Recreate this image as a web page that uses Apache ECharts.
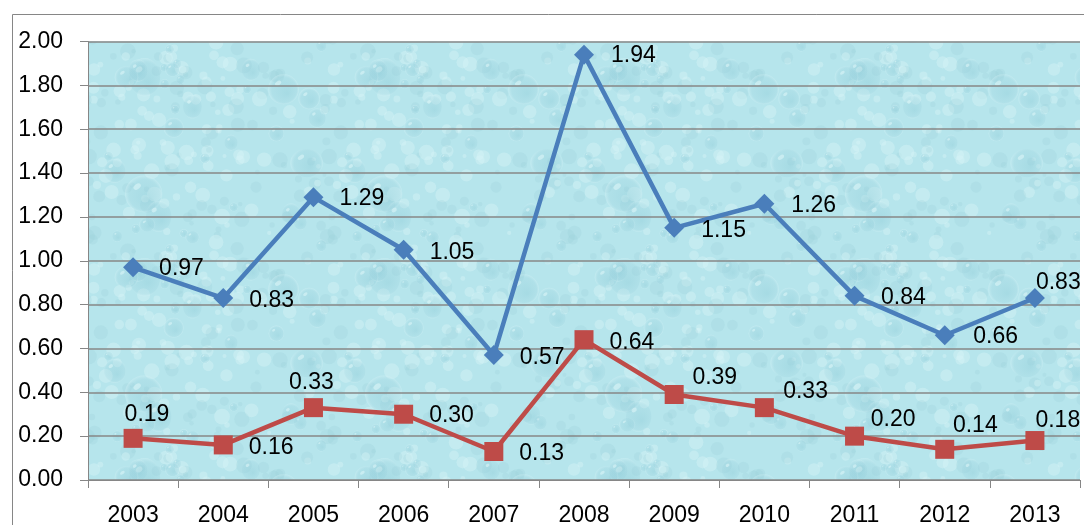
<!DOCTYPE html>
<html>
<head>
<meta charset="utf-8">
<script src="https://cdn.jsdelivr.net/npm/echarts@6/dist/echarts.min.js"></script>
<style>
  html, body { margin: 0; padding: 0; background: #ffffff; }
  #chart { width: 1084px; height: 525px; }
</style>
</head>
<body>
<div id="chart"></div>
<script>
// Years on the category axis
const years = ['2003', '2004', '2005', '2006', '2007', '2008', '2009', '2010', '2011', '2012', '2013'];
// Upper series (blue, diamonds)
const seriesA = [0.97, 0.83, 1.29, 1.05, 0.57, 1.94, 1.15, 1.26, 0.84, 0.66, 0.83];
// Lower series (red, squares)
const seriesB = [0.19, 0.16, 0.33, 0.30, 0.13, 0.64, 0.39, 0.33, 0.20, 0.14, 0.18];
// Value axis range
const yMin = 0, yMax = 2, yStep = 0.2;

// Label nudges (px) for individual data labels, relative to the default right-side spot
const nudgeA = [[0, 1], [0, 2.5], [0, 1.5], [0, 3], [0, 2.5], [1, 1.5], [1, 2.5], [1, 2], [0.5, 2], [2.5, 1.2], [-25, -15]];
const nudgeB = [[-34, -24], [0, 2.6], [-50, -25], [0, 1.6], [0, 2], [0, 3], [-7.3, -16.5], [-6.7, -16.3], [-9.3, -16], [-17.3, -24], [-25, -20]];

// Soft water-drop texture for the plot background, painted once on an offscreen canvas
function makeTexture() {
  const W = 240, H = 200;
  const c = document.createElement('canvas');
  c.width = W; c.height = H;
  const g = c.getContext('2d');
  g.fillStyle = '#b6e5ec';
  g.fillRect(0, 0, W, H);
  let s = 11;
  const rnd = () => { s = (s * 16807) % 2147483647; return (s - 1) / 2147483646; };
  // light mottling
  for (let i = 0; i < 160; i++) {
    const x = rnd() * W, y = rnd() * H, r = 2 + rnd() * 6;
    g.fillStyle = rnd() < 0.55 ? 'rgba(218,245,248,0.4)' : 'rgba(150,205,216,0.22)';
    for (let dx = -W; dx <= W; dx += W) for (let dy = -H; dy <= H; dy += H) {
      g.beginPath(); g.arc(x + dx, y + dy, r, 0, Math.PI * 2); g.fill();
    }
  }
  // drops
  for (let i = 0; i < 34; i++) {
    const x = rnd() * W, y = rnd() * H;
    const r = 4 + Math.pow(rnd(), 2) * 16;
    const ry = r * (0.85 + rnd() * 0.45);
    for (let dx = -W; dx <= W; dx += W) {
      for (let dy = -H; dy <= H; dy += H) {
        const cx = x + dx, cy = y + dy;
        if (cx + r < 0 || cx - r > W || cy + ry < 0 || cy - ry > H) continue;
        const rg = g.createRadialGradient(cx + r * 0.25, cy + ry * 0.3, 0, cx, cy, Math.max(r, ry));
        rg.addColorStop(0, 'rgba(128,194,208,0.3)');
        rg.addColorStop(0.8, 'rgba(148,205,218,0.2)');
        rg.addColorStop(1, 'rgba(222,247,250,0.35)');
        g.fillStyle = rg;
        g.beginPath();
        g.ellipse(cx, cy, r, ry, 0, 0, Math.PI * 2);
        g.fill();
        g.fillStyle = 'rgba(236,252,253,0.45)';
        g.beginPath();
        g.ellipse(cx - r * 0.35, cy - ry * 0.4, r * 0.22, ry * 0.14, -0.6, 0, Math.PI * 2);
        g.fill();
      }
    }
  }
  return c;
}

const FONT = 'Liberation Sans';
const labelBase = {
  show: true,
  position: 'right',
  distance: 16,
  color: '#000000',
  fontFamily: FONT,
  fontSize: 23,
  formatter: p => p.value.toFixed(2)
};

function withNudges(values, nudges) {
  return values.map((v, i) => ({ value: v, label: { offset: nudges[i] } }));
}

const chart = echarts.init(document.getElementById('chart'), null, { renderer: 'canvas' });
chart.setOption({
  animation: false,
  backgroundColor: '#ffffff',
  graphic: [{
    type: 'rect',
    shape: { x: 12.5, y: 14.5, width: 1200, height: 700 },
    style: { fill: 'none', stroke: '#868686', lineWidth: 1 },
    silent: true,
    z: -10
  }],
  grid: {
    left: 88, right: 4, top: 41.5, bottom: 45,
    outerBoundsMode: 'none',
    containLabel: false,
    show: true,
    borderWidth: 0,
    backgroundColor: { image: makeTexture(), repeat: 'repeat' }
  },
  xAxis: {
    type: 'category',
    data: years,
    boundaryGap: true,
    axisLine: { show: true, lineStyle: { color: '#868686', width: 1 } },
    axisTick: { show: true, length: 8, lineStyle: { color: '#868686' } },
    axisLabel: { color: '#000000', fontFamily: FONT, fontSize: 23, margin: 24 },
    splitLine: { show: false }
  },
  yAxis: {
    type: 'value',
    min: yMin, max: yMax, interval: yStep,
    axisLine: { show: true, lineStyle: { color: '#868686', width: 1 } },
    axisTick: { show: true, inside: false, length: 8, lineStyle: { color: '#868686' } },
    axisLabel: {
      color: '#000000', fontFamily: FONT, fontSize: 23, margin: 25,
      formatter: v => v.toFixed(2)
    },
    splitLine: { show: true, lineStyle: { color: '#878787', width: 1.5 } }
  },
  series: [
    {
      name: 'A',
      type: 'line',
      data: withNudges(seriesA, nudgeA),
      symbol: 'diamond',
      symbolSize: 20,
      lineStyle: { color: '#4a7ebb', width: 4.5 },
      itemStyle: { color: '#4a7ebb' },
      label: labelBase,
      z: 3
    },
    {
      name: 'B',
      type: 'line',
      data: withNudges(seriesB, nudgeB),
      symbol: 'rect',
      symbolSize: 19,
      lineStyle: { color: '#be4b48', width: 4.5 },
      itemStyle: { color: '#be4b48' },
      label: labelBase,
      z: 3
    }
  ]
});
</script>
</body>
</html>
